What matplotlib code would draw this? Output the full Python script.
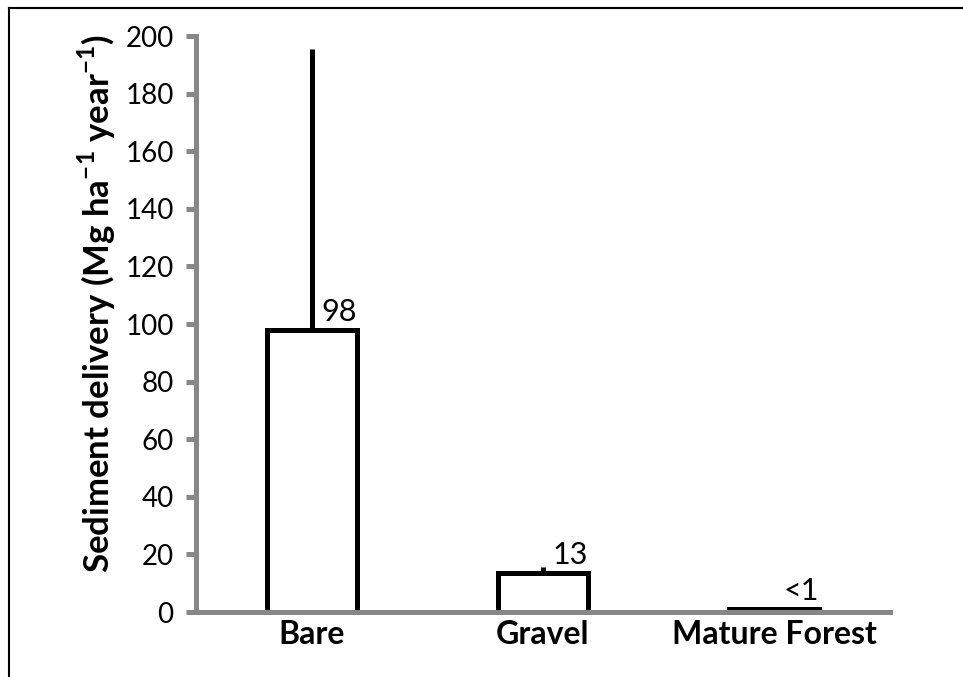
import numpy as np
import matplotlib
matplotlib.use("Agg")
import matplotlib.pyplot as plt
from matplotlib.lines import Line2D

plt.rcParams['font.family'] = ['Lato', 'DejaVu Sans']
plt.rcParams['mathtext.fontset'] = 'custom'
plt.rcParams['mathtext.bf'] = 'Lato:bold'
plt.rcParams['mathtext.rm'] = 'Lato'

# sediment delivery per surface type
categories = ['Bare', 'Gravel', 'Mature Forest']
values = [98, 13.5, 0.9]
upper_err = [97.5, 2.0, 0.0]
value_labels = ['98', '13', '<1']

axis_grey = '#878787'

fig = plt.figure(figsize=(9.63, 6.77), dpi=100)
ax = fig.add_axes([0.2035, 0.096, 0.7205, 0.8508])

x = np.arange(len(categories))
ax.bar(x, values, width=0.39, color='white', edgecolor='black', linewidth=3.6, zorder=2)

# upper error only, no caps
for xi, v, e in zip(x, values, upper_err):
    if e > 0:
        ax.plot([xi, xi], [v, v + e], color='black', linewidth=3.6, solid_capstyle='butt', zorder=3)

for xi, v, lab in zip(x, values, value_labels):
    ax.annotate(lab, (xi, v), xytext=(7, 3), textcoords='offset points',
                ha='left', va='bottom', fontsize=22)

ax.set_xlim(-0.5, 2.5)
ax.set_ylim(0, 200)
ax.set_yticks(np.arange(0, 201, 20))
ax.set_xticks(x)
ax.set_xticklabels(categories, fontsize=23, fontweight='bold')
ax.tick_params(axis='y', labelsize=20, length=7, width=3.6, color=axis_grey, pad=9)
ax.tick_params(axis='x', length=0, pad=6)

for side in ['top', 'right']:
    ax.spines[side].set_visible(False)
for side in ['left', 'bottom']:
    ax.spines[side].set_color(axis_grey)
    ax.spines[side].set_linewidth(3.6)
    ax.spines[side].set_zorder(4)

ax.set_ylabel(r'Sediment delivery (Mg ha$^{\mathbf{-1}}$ year$^{\mathbf{-1}}$)',
              fontsize=25, fontweight='bold', labelpad=5)
ax.yaxis.label.set_y(0.535)

# outer frame (top and left edges)
fig.add_artist(Line2D([0.0094, 1.0], [0.988, 0.988], transform=fig.transFigure,
                      color='black', linewidth=1.5))
fig.add_artist(Line2D([0.0094, 0.0094], [0.0, 0.988], transform=fig.transFigure,
                      color='black', linewidth=1.5))

fig.savefig('out.png', dpi=100)
